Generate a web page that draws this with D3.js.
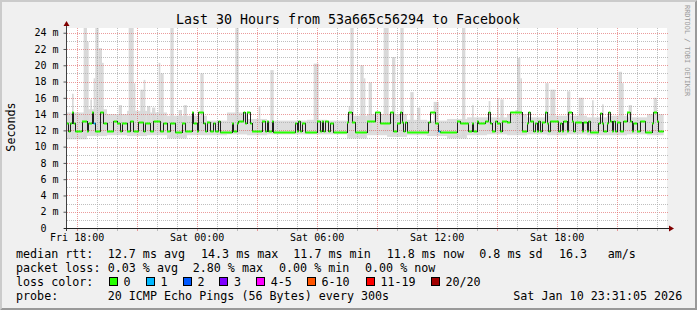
<!DOCTYPE html>
<html>
<head>
<meta charset="utf-8">
<script src="https://cdn.jsdelivr.net/npm/d3@7"></script>
<style>
  body { margin: 0; background: #f0f0f0; }
  svg { display: block; }
  text { font-family: "DejaVu Sans Mono", monospace; fill: #000; }
</style>
</head>
<body>
<svg id="chart"></svg>
<script>
// median rtt (ms), one value per run, run starts in minutes after the window start
const medianStart = [
  0, 5, 10, 15, 20, 25, 45, 60, 65, 75,
  80, 85, 100, 110, 120, 140, 150, 160, 165, 180,
  190, 200, 215, 230, 235, 250, 260, 280, 290, 300,
  310, 325, 345, 355, 375, 380, 390, 395, 410, 415,
  420, 430, 440, 445, 455, 460, 495, 500, 510, 515,
  530, 535, 540, 550, 555, 585, 595, 600, 605, 615,
  620, 685, 690, 695, 700, 705, 715, 750, 760, 765,
  770, 775, 785, 790, 800, 840, 845, 855, 865, 900,
  925, 940, 970, 980, 990, 1000, 1005, 1010, 1015, 1020,
  1085, 1090, 1105, 1115, 1120, 1170, 1180, 1205, 1215, 1220,
  1230, 1235, 1255, 1265, 1270, 1275, 1285, 1290, 1300, 1305,
  1320, 1330, 1365, 1380, 1385, 1390, 1400, 1405, 1410, 1415,
  1420, 1425, 1435, 1440, 1445, 1450, 1475, 1480, 1485, 1490,
  1500, 1505, 1515, 1520, 1525, 1545, 1550, 1560, 1565, 1570,
  1595, 1600, 1605, 1610, 1620, 1625, 1630, 1635, 1640, 1645,
  1650, 1660, 1670, 1680, 1690, 1695, 1700, 1710, 1720, 1735,
  1755, 1760, 1770, 1775
];
const medianMs = [
  12.95, 11.9, 12.95, 14.2, 12.95, 11.9, 13.1, 11.9, 12.95, 14.2,
  12.95, 11.9, 14.2, 12.95, 11.9, 13.1, 12.95, 11.9, 12.95, 11.9,
  13.1, 11.9, 13.0, 11.9, 12.95, 11.9, 13.1, 11.9, 12.95, 11.9,
  12.95, 11.8, 12.95, 11.9, 14.2, 12.95, 11.9, 14.3, 12.95, 11.9,
  13.0, 11.9, 12.95, 11.9, 13.1, 11.85, 12.95, 11.9, 12.95, 13.1,
  14.2, 12.95, 14.2, 12.95, 11.9, 13.1, 11.9, 13.1, 11.9, 13.1,
  11.85, 12.95, 11.9, 13.1, 11.9, 12.95, 11.85, 13.1, 11.9, 13.1,
  11.9, 13.1, 11.9, 12.95, 11.85, 13.0, 14.2, 13.0, 11.85, 13.1,
  14.2, 12.95, 14.2, 11.9, 12.95, 14.2, 13.0, 11.9, 13.0, 11.85,
  13.0, 14.2, 12.95, 11.9, 11.8, 13.1, 12.95, 11.9, 12.95, 11.9,
  13.1, 12.95, 13.1, 14.2, 12.95, 11.9, 13.1, 12.95, 11.9, 13.1,
  13.0, 14.2, 11.9, 12.95, 14.2, 13.1, 11.9, 12.95, 11.9, 13.1,
  11.9, 13.0, 14.2, 12.95, 11.9, 13.1, 11.9, 12.95, 11.9, 13.1,
  11.9, 14.2, 13.1, 11.9, 13.0, 11.9, 13.05, 11.9, 13.1, 11.85,
  12.95, 14.1, 12.95, 11.9, 12.95, 14.2, 13.1, 11.9, 13.1, 11.9,
  13.0, 11.9, 13.1, 14.2, 13.1, 11.9, 12.95, 11.9, 13.1, 11.85,
  12.95, 14.2, 13.1, 11.9
];
const medianEnd = 1790;

// intervals with lost pings
const lossStart = [80, 1115];
const lossEnd = [85, 1120];
const lossCount = [1, 1];

// smoke: hourly spread of the pings (ms)
const smokeLo = [10.9, 11.3, 11.4, 11.3, 11.4, 11.0, 11.4, 11.4, 11.5, 11.4,
  11.5, 11.5, 11.5, 11.5, 11.0, 11.4, 11.2, 11.4, 11.3, 11.0,
  11.4, 11.5, 11.4, 11.5, 11.4, 11.5, 11.4, 11.4, 11.5, 11.4];
const smokeHi = [14.2, 14.6, 14.0, 14.4, 14.2, 13.8, 13.8, 13.2, 14.2, 13.4,
  13.2, 13.2, 13.3, 13.2, 13.8, 14.0, 14.0, 13.3, 13.2, 13.4,
  13.6, 13.6, 14.0, 13.6, 13.8, 13.8, 13.6, 13.8, 13.6, 14.0];

// smoke spikes: start / end minute and highest ping (ms)
const spikeStart = [15, 50, 60, 70, 80, 85, 95, 105, 155, 185, 200, 220, 230, 240, 255, 275, 280, 310,
  335, 350, 400, 505, 575, 610, 740, 845, 850, 880, 890, 905, 950, 975, 1000, 1030, 1050, 1100,
  1185, 1215, 1265, 1290, 1300, 1345, 1350, 1360, 1435, 1450, 1500, 1535, 1575, 1605, 1655, 1665,
  1685, 1760];
const spikeEnd = [20, 60, 65, 75, 85, 95, 105, 110, 165, 200, 205, 230, 235, 250, 265, 280, 290, 320,
  345, 360, 410, 515, 580, 620, 755, 850, 860, 890, 895, 915, 965, 985, 1010, 1040, 1060, 1115,
  1195, 1220, 1270, 1295, 1310, 1350, 1360, 1365, 1445, 1465, 1510, 1550, 1580, 1610, 1665, 1670,
  1695, 1770];
const spikeTop = [16.5, 26, 22.9, 15.8, 18.4, 26, 22.1, 20.3, 15.1, 26, 17.8, 17.0, 18.2, 15.0, 14.8, 20.3, 19.0, 26,
  14.5, 15.1, 19.0, 26, 15.0, 19.4, 20.2, 15.0, 26, 20.0, 18.4, 17.9, 26, 21.0, 26, 16.7, 14.8, 15.5,
  26, 15.1, 15.6, 16.0, 15.8, 14.5, 20.9, 18.4, 17.8, 17.0, 16.8, 16.0, 15.7, 15.2, 19.2, 17.8,
  15.1, 16.0];

const lossLabels = ['0', '1', '2', '3', '4-5', '6-10', '11-19', '20/20'];
const lossColors = ['#26ff00', '#00b8ff', '#0059ff', '#7e00ff', '#ff00ff', '#ff5500', '#ff0000', '#a10000'];

const W = 697, H = 310;
const plot = { left: 67, right: 667, top: 28, bottom: 228 };

const t0 = new Date(2026, 0, 9, 17, 31, 5);
const t1 = new Date(2026, 0, 10, 23, 31, 5);
const at = m => new Date(+t0 + m * 60000);

const x = d3.scaleTime().domain([t0, t1]).range([plot.left, plot.right]);
const y = d3.scaleLinear().domain([0, 24.58]).range([plot.bottom, plot.top]);

const svg = d3.select('#chart').attr('width', W).attr('height', H);

// background and 3d frame
svg.append('rect').attr('width', W).attr('height', H).attr('fill', '#f0f0f0');
svg.append('path').attr('d', `M0,0H${W}L${W - 2},2H2V${H - 2}L0,${H}Z`).attr('fill', '#cbcbcb');
svg.append('path').attr('d', `M${W},0V${H}H0L2,${H - 2}H${W - 2}V2Z`).attr('fill', '#999');

svg.append('rect')
  .attr('x', plot.left).attr('y', plot.top)
  .attr('width', plot.right - plot.left).attr('height', plot.bottom - plot.top)
  .attr('fill', '#fff');

svg.append('clipPath').attr('id', 'clip')
  .append('rect')
  .attr('x', plot.left).attr('y', plot.top)
  .attr('width', plot.right - plot.left).attr('height', plot.bottom - plot.top);

// smoke
const smoke = svg.append('g').attr('clip-path', 'url(#clip)');
smoke.selectAll('rect.band')
  .data(d3.range(smokeLo.length))
  .enter()
  .append('rect')
  .attr('class', 'band')
  .attr('x', (i) => x(at(i * 60)))
  .attr('width', (i) => x(at(Math.min((i + 1) * 60, medianEnd))) - x(at(i * 60)))
  .attr('y', (i) => y(smokeHi[i]))
  .attr('height', (i) => y(smokeLo[i]) - y(smokeHi[i]))
  .attr('fill', '#dddddd');

smoke.selectAll('rect.spike')
  .data(spikeStart)
  .enter()
  .append('rect')
  .attr('class', 'spike')
  .attr('x', (d) => x(at(d)))
  .attr('width', (d, i) => x(at(spikeEnd[i])) - x(at(d)))
  .attr('y', (d, i) => y(spikeTop[i]))
  .attr('height', (d, i) => y(smokeLo[Math.floor(d / 60)] + 0.3) - y(spikeTop[i]))
  .attr('fill', '#d9d9d9');

// grid
const grid = svg.append('g').attr('shape-rendering', 'crispEdges');
const minorGrid = 'rgba(170,170,170,0.75)';
const majorGrid = 'rgba(222,90,90,0.6)';

const yMinor = y.ticks(25).filter((d) => d > 0 && d % 2 !== 0);
const yMajor = y.ticks(12).filter((d) => d > 0);
grid.selectAll('line.hy')
  .data(yMinor.concat(yMajor))
  .enter()
  .append('line')
  .attr('x1', plot.left).attr('x2', plot.right + 2)
  .attr('y1', (d) => Math.round(y(d)) + 0.5)
  .attr('y2', (d) => Math.round(y(d)) + 0.5)
  .attr('stroke', (d) => (d % 2 === 0 ? majorGrid : minorGrid))
  .attr('stroke-dasharray', '1,1');

const hours = x.ticks(d3.timeHour.every(1));
const isMajor = (d) => d.getHours() % 3 === 0;
grid.selectAll('line.vx')
  .data(hours)
  .enter()
  .append('line')
  .attr('x1', (d) => Math.round(x(d)) + 0.5)
  .attr('x2', (d) => Math.round(x(d)) + 0.5)
  .attr('y1', plot.top).attr('y2', plot.bottom)
  .attr('stroke', (d) => (isMajor(d) ? majorGrid : minorGrid))
  .attr('stroke-dasharray', '1,1');
grid.selectAll('line.tx')
  .data(hours)
  .enter()
  .append('line')
  .attr('x1', (d) => Math.round(x(d)) + 0.5)
  .attr('x2', (d) => Math.round(x(d)) + 0.5)
  .attr('y1', plot.bottom).attr('y2', plot.bottom + 3)
  .attr('stroke', (d) => (isMajor(d) ? majorGrid : minorGrid));

// median line and loss colour band
const runs = medianStart.map((s, i) => ({
  s,
  e: i < medianStart.length - 1 ? medianStart[i + 1] : medianEnd,
  v: medianMs[i],
}));

const lossColorIndex = (n) => (n <= 3 ? n : n <= 5 ? 4 : n <= 10 ? 5 : n < 20 ? 6 : 7);

const pts = runs.map((r) => [at(r.s), r.v]).concat([[at(medianEnd), medianMs[medianMs.length - 1]]]);
svg.append('path')
  .attr('d', d3.line().x((d) => x(d[0])).y((d) => Math.round(y(d[1])) + 0.5).curve(d3.curveStepAfter)(pts))
  .attr('fill', 'none')
  .attr('stroke', '#202020')
  .attr('stroke-width', 1)
  .attr('shape-rendering', 'crispEdges');

const bands = [];
runs.forEach((r) => {
  let cursor = r.s;
  lossStart.forEach((s, j) => {
    const a = Math.max(s, r.s), b = Math.min(lossEnd[j], r.e);
    if (a >= b) return;
    if (a > cursor) bands.push({ s: cursor, e: a, v: r.v, c: lossColors[0] });
    bands.push({ s: a, e: b, v: r.v, c: lossColors[lossColorIndex(lossCount[j])] });
    cursor = b;
  });
  if (cursor < r.e) bands.push({ s: cursor, e: r.e, v: r.v, c: lossColors[0] });
});
svg.append('g')
  .selectAll('rect')
  .data(bands)
  .enter()
  .append('rect')
  .attr('x', (d) => x(at(d.s)))
  .attr('width', (d) => x(at(d.e)) - x(at(d.s)))
  .attr('y', (d) => Math.round(y(d.v)) - 0.5)
  .attr('height', 2)
  .attr('fill', (d) => d.c);

// axes
const yAxis = d3.axisLeft(y)
  .tickValues(y.ticks(12))
  .tickSize(3)
  .tickPadding(5)
  .tickFormat((d) => (d === 0 ? '0' : `${d} m`));
const gy = svg.append('g')
  .attr('transform', `translate(${plot.left - 0.5},0)`)
  .call(yAxis);
gy.select('.domain').remove();
gy.selectAll('line').attr('stroke', '#555');
gy.selectAll('text')
  .attr('font-family', '"DejaVu Sans Mono", monospace')
  .attr('font-size', 10)
  .attr('x', (d) => (d === 0 ? -20 : -8));

const xAxis = d3.axisBottom(x)
  .ticks(d3.timeHour.every(6))
  .tickFormat(d3.timeFormat('%a %H:%M'))
  .tickSize(0);
const gx = svg.append('g')
  .attr('transform', `translate(0,${plot.bottom})`)
  .call(xAxis);
gx.select('.domain').remove();
gx.selectAll('text')
  .attr('font-family', '"DejaVu Sans Mono", monospace')
  .attr('font-size', 10)
  .attr('y', 13)
  .attr('dy', null);

svg.append('line')
  .attr('x1', plot.left - 0.5).attr('x2', plot.left - 0.5)
  .attr('y1', plot.bottom + 3).attr('y2', 24)
  .attr('stroke', '#404040');
svg.append('line')
  .attr('x1', plot.left - 3).attr('x2', plot.right + 4)
  .attr('y1', plot.bottom + 0.5).attr('y2', plot.bottom + 0.5)
  .attr('stroke', '#222');
svg.append('path').attr('d', `M${plot.left - 3.5},26L${plot.left + 2.5},26L${plot.left - 0.5},21Z`).attr('fill', '#800000');
svg.append('path').attr('d', `M${plot.right + 2},${plot.bottom - 2.5}L${plot.right + 2},${plot.bottom + 3.5}L${plot.right + 7},${plot.bottom + 0.5}Z`).attr('fill', '#800000');

// titles
svg.append('text')
  .attr('x', 348).attr('y', 24)
  .attr('text-anchor', 'middle')
  .attr('font-size', 13.3)
  .text('Last 30 Hours from 53a665c56294 to Facebook');

svg.append('text')
  .attr('transform', 'translate(15,127) rotate(-90)')
  .attr('text-anchor', 'middle')
  .attr('font-size', 11.7)
  .text('Seconds');

svg.append('text')
  .attr('transform', 'translate(685,5) rotate(90)')
  .attr('font-size', 6.9)
  .style('fill', '#999')
  .text('RRDTOOL / TOBI OETIKER');

// legend
const legend = svg.append('g').attr('font-size', 11.7);
const rows = [257.5, 271.7, 285.8, 299.5];
const put = (tx, px, row) => legend.append('text').attr('x', px).attr('y', rows[row]).text(tx);

put('median rtt:', 16, 0);
put('12.7 ms avg', 107.7, 0);
put('14.3 ms max', 201, 0);
put('11.7 ms min', 293.3, 0);
put('11.8 ms now', 386.7, 0);
put('0.8 ms sd', 479.3, 0);
put('16.3', 559, 0);
put('am/s', 607.7, 0);

put('packet loss:', 16, 1);
put('0.03 % avg', 107.7, 1);
put('2.80 % max', 192.7, 1);
put('0.00 % min', 279, 1);
put('0.00 % now', 365, 1);

put('loss color:', 16, 2);
const boxX = [108.7, 145.7, 182.7, 219.3, 256, 306.7, 365.7, 430.7];
lossLabels.forEach((l, i) => {
  legend.append('rect')
    .attr('x', Math.round(boxX[i]) + 0.5).attr('y', 277.5)
    .attr('width', 8).attr('height', 8)
    .attr('fill', lossColors[i])
    .attr('stroke', '#000');
  put(l, boxX[i] + 14.7, 2);
});

put('probe:', 16, 3);
put('20 ICMP Echo Pings (56 Bytes) every 300s', 107.7, 3);
put('Sat Jan 10 23:31:05 2026', 513.3, 3);
</script>
</body>
</html>
